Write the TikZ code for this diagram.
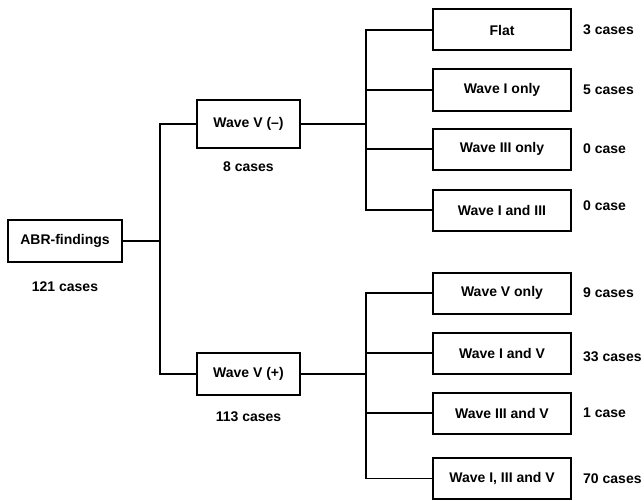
\documentclass[tikz,border=0pt]{standalone}
\usepackage{fontspec}
\setmainfont{Liberation Sans}
\usepackage{tikz}
\usetikzlibrary{positioning}
\tikzstyle{box} = [rectangle, draw=black, line width=2pt, minimum width=138pt, minimum height=41pt, text centered, font=\bfseries\fontsize{14}{16}\selectfont]
\tikzstyle{count} = [inner sep=0pt, font=\bfseries\fontsize{14}{16}\selectfont]
\tikzstyle{link} = [line width=1.8pt]

\begin{document}
\begin{tikzpicture}[x=1pt, y=1pt]
\useasboundingbox (0,0) rectangle (644,-500);
% Root
\node (abr) [box, minimum width=114pt, minimum height=42pt] at (65,-241) {ABR-findings};
\node [count, below of=abr, node distance=46pt] {121 cases};

% Wave V split
\node (vneg) [box, minimum width=103pt, minimum height=47pt] at (248.5,-124) {Wave V (--)};
\node (vpos) [box, minimum width=103pt, minimum height=42pt] at (248.5,-374) {Wave V (+)};
\node [count, below of=vneg, node distance=43pt] {8 cases};
\node [count, below of=vpos, node distance=43pt] {113 cases};

% Findings with wave V absent
\node (flat) [box] at (502,-30) {Flat};
\node (wIonly) [box] at (502,-90) {Wave I only};
\node (wIIIonly) [box] at (502,-149) {Wave III only};
\node (wIandIII) [box] at (502,-210) {Wave I and III};

% Findings with wave V present
\node (wVonly) [box] at (502,-293) {Wave V only};
\node (wIandV) [box] at (502,-353) {Wave I and V};
\node (wIIIandV) [box] at (502,-413) {Wave III and V};
\node (wallV) [box] at (502,-478.5) {Wave I, III and V};

% Case counts
\node [count, right=11pt of flat] {3 cases};
\node [count, right=11pt of wIonly] {5 cases};
\node [count, right=11pt of wIIIonly] {0 case};
\node [count, right=11pt of wIandIII, yshift=4pt] {0 case};
\node [count, right=11pt of wVonly] {9 cases};
\node [count, right=11pt of wIandV, yshift=-4pt] {33 cases};
\node [count, right=11pt of wIIIandV] {1 case};
\node [count, right=11pt of wallV] {70 cases};

% Connectors
\coordinate (jroot) at (160,-241);
\coordinate (jneg) at (366,-124);
\coordinate (jpos) at (366,-374);
\draw[link] (abr) -- (jroot);
\draw[link] (vneg) -| (jroot) |- (vpos);
\draw[link, line width=2.8pt] (vneg) -- (jneg);
\draw[link] (vpos) -- (jpos);
\draw[link] (jneg) |- (flat);
\draw[link] (jneg) |- (wIonly);
\draw[link] (jneg) |- (wIIIonly);
\draw[link] (jneg) |- (wIandIII);
\draw[link] (jpos) |- (wVonly);
\draw[link] (jpos) |- (wIandV);
\draw[link] (jpos) |- (wIIIandV);
\draw[link] (jpos) |- (wallV);
\end{tikzpicture}
\end{document}
